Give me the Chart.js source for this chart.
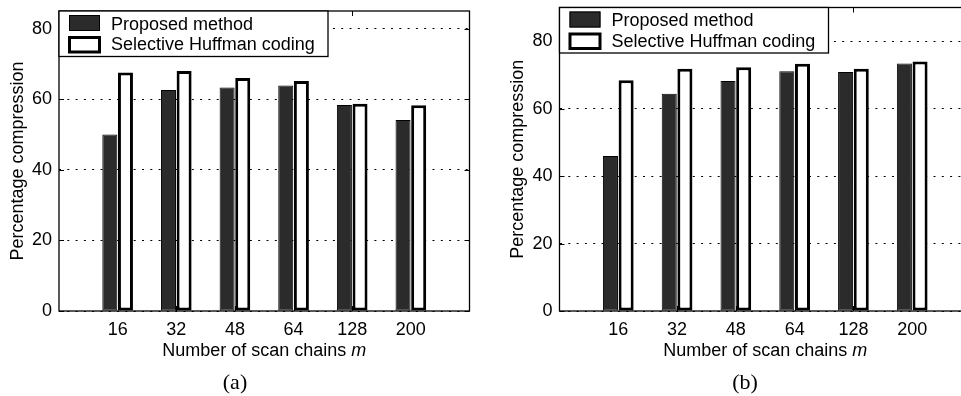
<!DOCTYPE html>
<html>
<head>
<meta charset="utf-8">
<script src="https://cdn.jsdelivr.net/npm/chart.js@4"></script>
<style>
  html, body { margin: 0; padding: 0; background: #fff; overflow: hidden; }
  body { width: 961px; height: 396px; position: relative; }
  canvas { position: absolute; top: 0; }
  #chartA { left: 0; }
  #chartB { left: 480px; }
  .caption { position: absolute; top: 370px; font: 22px "Liberation Serif", serif; transform: translateX(-50%); line-height: 24px; }
</style>
</head>
<body>
<canvas id="chartA" width="480" height="396"></canvas>
<canvas id="chartB" width="502" height="396"></canvas>
<div class="caption" style="left:235px">(a)</div>
<div class="caption" style="left:745px">(b)</div>
<script>
// number of scan chains m
const chainLabels = ['16', '32', '48', '64', '128', '200'];

// panel (a)
const proposedA = [50.0, 62.6, 63.3, 63.9, 58.4, 54.1];
const huffmanA  = [67.6, 68.0, 66.0, 65.2, 58.7, 58.3];
const yMaxA = 85;

// panel (b)
const proposedB = [46.0, 64.4, 68.2, 71.1, 70.9, 73.4];
const huffmanB  = [68.4, 71.8, 72.3, 73.3, 71.8, 74.0];
const yMaxB = 90;

const seriesNames = ['Proposed method', 'Selective Huffman coding'];
const font = '"Liberation Sans", Arial, sans-serif';

// empty slots at both ends, like the MATLAB axis
const pad = arr => [null, ...arr, null];

// frame, inward ticks, legend box and x title
const matlabLook = {
  id: 'matlabLook',
  afterDatasetsDraw(chart) {
    const {ctx, chartArea: a, scales: {x, y}} = chart;
    ctx.save();
    ctx.strokeStyle = '#000';
    ctx.lineWidth = 1;
    ctx.beginPath();
    y.ticks.forEach(t => {
      const py = Math.round(y.getPixelForValue(t.value)) + 0.5;
      ctx.moveTo(a.left, py); ctx.lineTo(a.left + 5, py);
      ctx.moveTo(a.right, py); ctx.lineTo(a.right - 5, py);
    });
    for (let i = 1; i < x.ticks.length - 1; i++) {
      const px = Math.round(x.getPixelForTick(i)) + 0.5;
      ctx.moveTo(px, a.top); ctx.lineTo(px, a.top + 5);
      ctx.moveTo(px, a.bottom); ctx.lineTo(px, a.bottom - 5);
    }
    ctx.stroke();
    ctx.lineWidth = 1.3;
    ctx.strokeRect(a.left, a.top, a.right - a.left, a.bottom - a.top);

    // legend
    const bx = a.left, by = a.top, bw = 269, bh = 45.5;
    ctx.fillStyle = '#fff';
    ctx.fillRect(bx, by, bw, bh);
    ctx.lineWidth = 1.3;
    ctx.strokeRect(bx, by, bw, bh);
    const ds = chart.data.datasets;
    ctx.fillStyle = ds[0].backgroundColor;
    ctx.fillRect(bx + 10, by + 4, 31, 16);
    ctx.lineWidth = 1;
    ctx.strokeRect(bx + 10.5, by + 4.5, 30, 15);
    ctx.fillStyle = ds[1].backgroundColor;
    ctx.fillRect(bx + 10, by + 26, 31, 15.5);
    ctx.lineWidth = 3;
    ctx.strokeRect(bx + 10.5, by + 26.5, 30, 14.5);
    ctx.fillStyle = '#000';
    ctx.font = '18px ' + font;
    ctx.textBaseline = 'alphabetic';
    ctx.textAlign = 'left';
    ctx.fillText(ds[0].label, bx + 52, by + 18.5);
    ctx.fillText(ds[1].label, bx + 52, by + 39.3);

    // x-axis title with italic m
    const t1 = 'Number of scan chains ';
    const t2 = 'm';
    ctx.font = '18px ' + font;
    const w1 = ctx.measureText(t1).width;
    ctx.font = 'italic 18px ' + font;
    const w2 = ctx.measureText(t2).width;
    const sx = (a.left + a.right) / 2 - (w1 + w2) / 2;
    ctx.font = '18px ' + font;
    ctx.fillText(t1, sx, 356);
    ctx.font = 'italic 18px ' + font;
    ctx.fillText(t2, sx + w1, 356);
    ctx.restore();
  }
};

function noScalePadding(scale) {
  scale.paddingTop = 0;
  scale.paddingBottom = 0;
  scale.paddingLeft = 0;
  scale.paddingRight = 0;
}

function makeChart(id, proposed, huffman, yMax, layoutPad, yAxisWidth, titlePad) {
  return new Chart(document.getElementById(id), {
    type: 'bar',
    data: {
      labels: pad(chainLabels),
      datasets: [
        {
          label: seriesNames[0],
          data: pad(proposed),
          backgroundColor: '#2b2b2b',
          borderColor: '#000',
          borderWidth: 1,
          borderSkipped: false
        },
        {
          label: seriesNames[1],
          data: pad(huffman),
          backgroundColor: '#fff',
          borderColor: '#000',
          borderWidth: 3,
          borderSkipped: false
        }
      ]
    },
    options: {
      responsive: false,
      animation: false,
      devicePixelRatio: 1,
      categoryPercentage: 0.533,
      barPercentage: 0.96,
      layout: { padding: layoutPad },
      plugins: {
        legend: { display: false },
        tooltip: { enabled: false }
      },
      scales: {
        x: {
          offset: false,
          grid: { display: false },
          border: { display: false },
          ticks: {
            color: '#000',
            font: { family: font, size: 18 },
            padding: 0,
            autoSkip: false,
            maxRotation: 0
          },
          afterFit(scale) {
            scale.height = 396 - 311 - layoutPad.bottom;
            noScalePadding(scale);
          }
        },
        y: {
          min: 0,
          max: yMax,
          grid: { color: '#000', lineWidth: 1, drawTicks: false },
          border: { display: false, dash: [2, 6.3] },
          ticks: {
            stepSize: 20,
            includeBounds: false,
            color: '#000',
            font: { family: font, size: 18 },
            padding: 7
          },
          title: {
            display: true,
            text: 'Percentage compression',
            color: '#000',
            font: { family: font, size: 18 },
            padding: { top: titlePad, bottom: 0 }
          },
          afterFit(scale) {
            scale.width = yAxisWidth;
            noScalePadding(scale);
          }
        }
      }
    },
    plugins: [matlabLook]
  });
}

makeChart('chartA', proposedA, huffmanA, yMaxA, { top: 11, right: 10.5, left: 0, bottom: 0 }, 59, 7.2);
makeChart('chartB', proposedB, huffmanB, yMaxB, { top: 7.5, right: 11, left: 0, bottom: 0 }, 79.5, 27.2);
</script>
</body>
</html>
